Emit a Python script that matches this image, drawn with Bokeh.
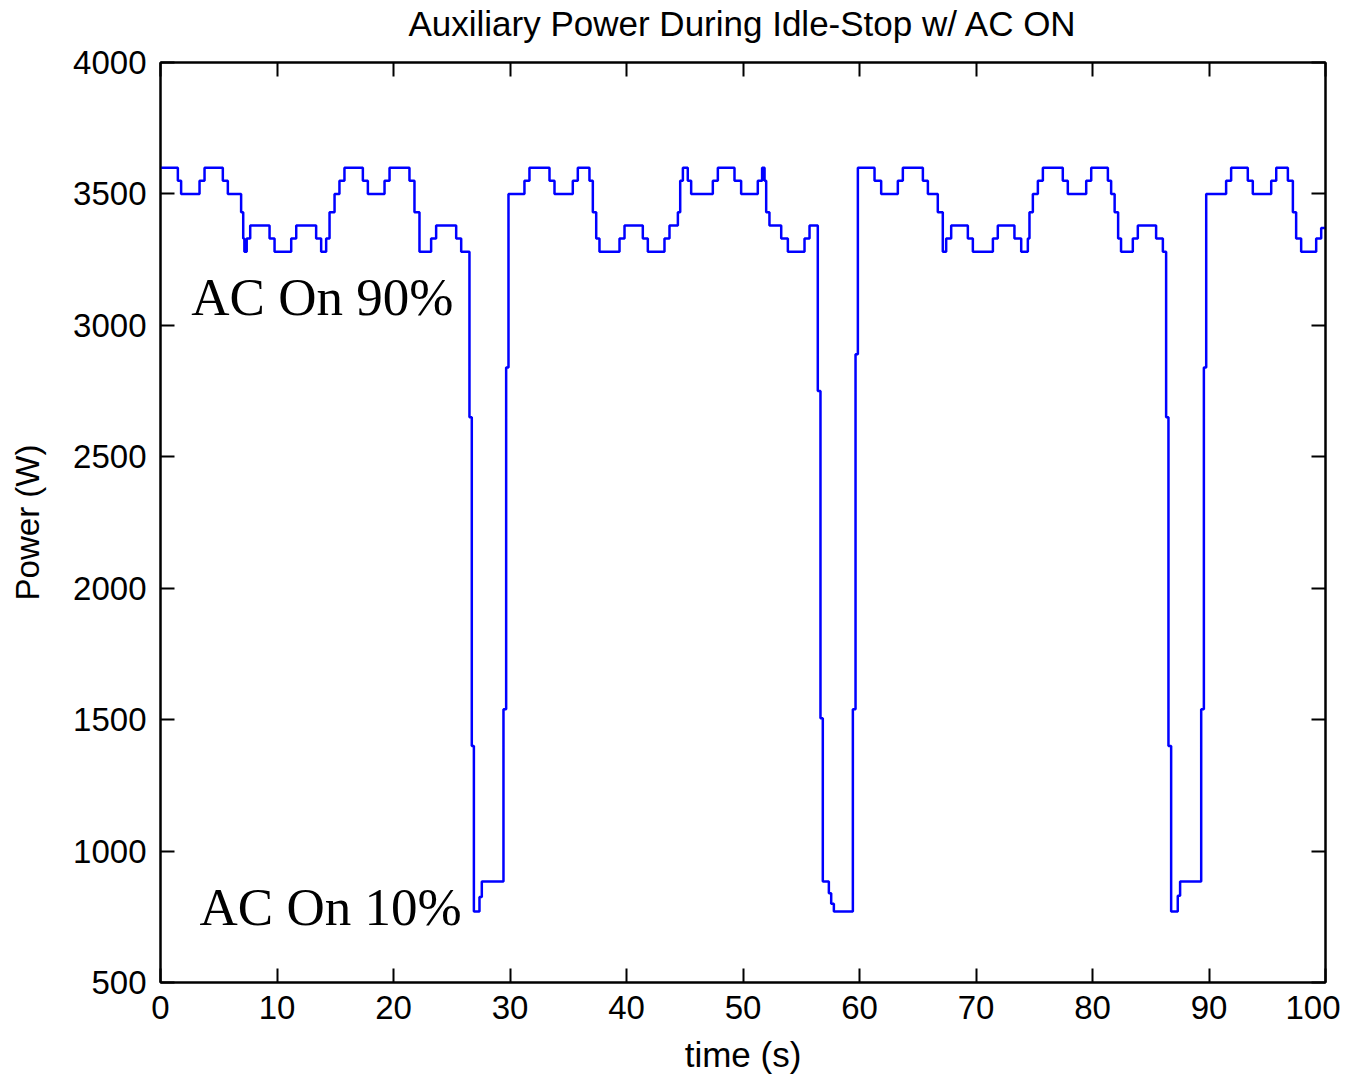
from bokeh.plotting import figure
from bokeh.models import Range1d, FixedTicker, LinearAxis, Label
from bokeh.embed import file_html
from bokeh.resources import INLINE

title_text = "Auxiliary Power During Idle-Stop w/ AC ON"
x_label = "time (s)"
y_label = "Power (W)"
x_ticks = [0, 10, 20, 30, 40, 50, 60, 70, 80, 90, 100]
y_ticks = [500, 1000, 1500, 2000, 2500, 3000, 3500, 4000]

# Step signal: start time of each level (s) and the level (W)
seg_start_s = [
    0.00, 1.49, 1.77, 3.35, 3.78, 5.35, 5.78, 6.92, 7.10, 7.20, 7.40, 7.70,
    9.36, 9.79, 11.22, 11.65, 13.36, 13.79, 14.22, 14.51, 14.94, 15.36, 15.79,
    17.37, 17.80, 19.23, 19.66, 21.37, 21.80, 22.23, 23.23, 23.66, 25.38, 25.81,
    26.52, 26.72, 26.90, 27.38, 27.58, 29.44, 29.67, 29.87,
    31.24, 31.67, 33.39, 33.82, 35.39, 35.82, 36.82, 37.11, 37.40, 37.68,
    39.40, 39.83, 41.40, 41.83, 43.26, 43.69, 44.41, 44.61, 44.84, 45.26, 45.55,
    47.41, 47.84, 49.27, 49.84, 51.27, 51.64, 51.85, 51.99, 52.27, 53.28, 53.85,
    55.28, 55.71, 56.42, 56.65, 56.85, 57.37, 57.57, 57.80, 59.43, 59.66, 59.86,
    61.29, 61.86, 63.29, 63.72, 65.44, 65.87, 66.72, 67.15, 67.44, 67.87,
    69.30, 69.73, 71.45, 71.87, 73.30, 73.88, 74.45, 74.59, 74.88, 75.31, 75.74,
    77.45, 77.88, 79.46, 79.89, 81.32, 81.60, 81.90, 82.20, 82.45, 83.46, 83.89,
    85.46, 86.04, 86.32, 86.52, 86.75, 87.32, 87.52, 89.33, 89.56, 89.76,
    91.47, 91.90, 93.33, 93.76, 95.34, 95.77, 96.77, 97.20, 97.48, 97.91,
    99.20, 99.63,
]
seg_level_w = [
    3600, 3550, 3500, 3550, 3600, 3550, 3500, 3430, 3330, 3280, 3330, 3380,
    3330, 3280, 3330, 3380, 3330, 3280, 3330, 3430, 3500, 3550, 3600,
    3550, 3500, 3550, 3600, 3550, 3430, 3280, 3330, 3380, 3330, 3280,
    2650, 1400, 770, 825, 884, 1540, 2840, 3500,
    3550, 3600, 3550, 3500, 3550, 3600, 3550, 3430, 3330, 3280,
    3330, 3380, 3330, 3280, 3330, 3380, 3430, 3550, 3600, 3550, 3500,
    3550, 3600, 3550, 3500, 3550, 3600, 3550, 3430, 3380, 3330, 3280,
    3330, 3380, 2750, 1505, 884, 840, 800, 770, 1540, 2890, 3600,
    3550, 3500, 3550, 3600, 3550, 3500, 3430, 3280, 3330, 3380,
    3330, 3280, 3330, 3380, 3330, 3280, 3330, 3430, 3500, 3550, 3600,
    3550, 3500, 3550, 3600, 3550, 3500, 3430, 3330, 3280, 3330, 3380,
    3330, 3280, 2650, 1400, 770, 830, 884, 1540, 2840, 3500,
    3550, 3600, 3550, 3500, 3550, 3600, 3550, 3430, 3330, 3280,
    3330, 3370,
]
end_time_s = 100

ann_texts = ["AC On 90%", "AC On 10%"]
ann_x = [2.64, 3.35]
ann_y = [3106, 789]

xs = seg_start_s + [end_time_s]
ys = seg_level_w + [seg_level_w[-1]]

p = figure(width=1340, height=1077,
           x_range=Range1d(x_ticks[0], x_ticks[-1]),
           y_range=Range1d(y_ticks[0], y_ticks[-1]),
           output_backend="svg", toolbar_location=None,
           min_border_left=160, min_border_top=62,
           min_border_right=15, min_border_bottom=95)
p.title = None
p.background_fill_color = "white"
p.border_fill_color = "white"
p.xgrid.visible = False
p.ygrid.visible = False
p.outline_line_color = "black"
p.outline_line_width = 2

p.step(xs, ys, mode="after", line_color="#0000FF", line_width=2.5)

FONT = "Liberation Sans"


def style_axis(ax, ticks, show_labels=True):
    ax.ticker = FixedTicker(ticks=ticks)
    ax.major_tick_in = 14
    ax.major_tick_out = 0
    ax.minor_tick_line_color = None
    ax.axis_line_color = "black"
    ax.axis_line_width = 2
    ax.major_tick_line_color = "black"
    ax.major_tick_line_width = 2
    ax.major_label_text_font = FONT
    if show_labels:
        ax.major_label_text_font_size = "33px"
        ax.major_label_text_color = "black"
    else:
        ax.major_label_text_font_size = "1px"
        ax.major_label_text_color = None
        ax.major_label_standoff = 0


def style_label(ax, text, size, standoff):
    ax.axis_label = text
    ax.axis_label_text_font = FONT
    ax.axis_label_text_font_size = size
    ax.axis_label_text_font_style = "normal"
    ax.axis_label_text_color = "black"
    ax.axis_label_standoff = standoff


xa = p.xaxis[0]
ya = p.yaxis[0]
style_axis(xa, x_ticks)
style_axis(ya, y_ticks)
xa.major_label_standoff = 13
ya.major_label_standoff = 14
style_label(xa, x_label, "35px", 13)
style_label(ya, y_label, "33px", 24)

# Box ticks on top and right; the top axis carries the chart title
top_ax = LinearAxis()
right_ax = LinearAxis()
style_axis(top_ax, x_ticks, show_labels=False)
style_axis(right_ax, y_ticks, show_labels=False)
style_label(top_ax, title_text, "35px", 20)
p.add_layout(top_ax, "above")
p.add_layout(right_ax, "right")

for t, x, y in zip(ann_texts, ann_x, ann_y):
    p.add_layout(Label(x=x, y=y, text=t, text_font="Liberation Serif",
                       text_font_size="53px", text_color="black",
                       text_baseline="middle", text_align="left"))

open("out.html", "w").write(file_html(p, INLINE))
